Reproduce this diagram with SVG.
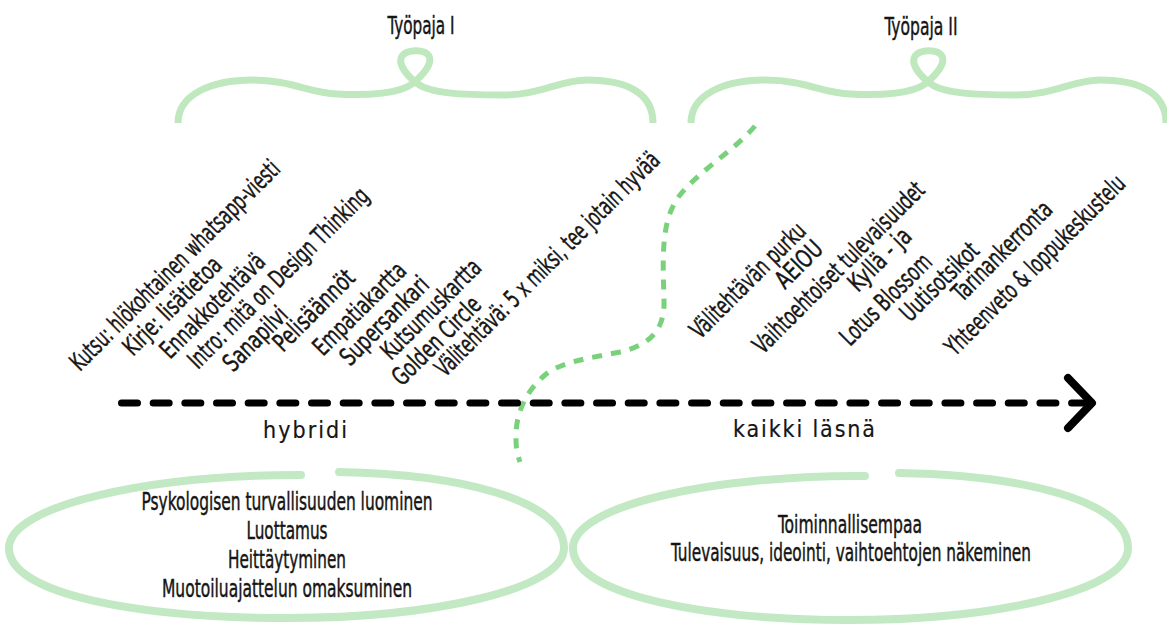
<svg xmlns="http://www.w3.org/2000/svg" width="1167" height="624" viewBox="0 0 1167 624">
<style>
  text { font-family: "Liberation Sans Narrow", "DejaVu Sans Condensed", "Liberation Sans", sans-serif; fill: #151515; stroke: #151515; stroke-width: 0.45; font-size: 25px; }
  .mid { text-anchor: middle; }
  .goal { font-size: 24px; }
  .spaced { font-size: 23px; stroke-width: 0.2; }
  .brace { fill: none; stroke: #bfe8bf; stroke-width: 7; stroke-linecap: butt; stroke-linejoin: round; }
  .oval { fill: none; stroke: #c2e9c3; stroke-width: 8; stroke-linecap: round; }
  .divider { fill: none; stroke: #79d27b; stroke-width: 5; stroke-dasharray: 10 9; }
  .timeline { fill: none; stroke: #000; stroke-width: 7; stroke-linecap: round; stroke-dasharray: 16 15.67; }
  .head { fill: none; stroke: #000; stroke-width: 8; stroke-linecap: round; stroke-linejoin: round; }
</style>
<defs>
  <path id="bracePath" d="M178,123 C178,95 210,80 253,80 C290,80 310,93 337,94 C370,96 400,93 412,84 C422,76 433,64 429,56 C425,49 407,49 402,56 C397,64 407,76 418,84 C430,93 460,95 503,95 C540,95 560,80 587,80 C630,80 653,95 653,123"/>
</defs>

<g id="workshop1">
  <use href="#bracePath" class="brace"/>
  <text class="mid" x="421" y="34" textLength="67" lengthAdjust="spacingAndGlyphs">Työpaja I</text>
</g>
<g id="workshop2">
  <use href="#bracePath" class="brace" transform="translate(513,0)"/>
  <text class="mid" x="921" y="35" textLength="73" lengthAdjust="spacingAndGlyphs">Työpaja II</text>
</g>

<g id="divider">
  <path class="divider" d="M755,126 C735,150 700,170 680,195 C660,220 663,260 664,300 C665,330 650,345 620,352 C590,358 560,362 545,375 C525,392 515,415 516,440 C516,450 518,456 520,462"/>
</g>

<g id="connectors">
  <path class="timeline" d="M121.5,403 H1088"/>
  <polyline class="head" points="1068,378 1092,403 1068,428"/>
</g>

<g id="labels-workshop1">
  <text transform="translate(80,372) rotate(-45)" textLength="285" lengthAdjust="spacingAndGlyphs">Kutsu: hlökohtainen whatsapp-viesti</text>
  <text transform="translate(133,357) rotate(-45)" textLength="128" lengthAdjust="spacingAndGlyphs">Kirje: lisätietoa</text>
  <text transform="translate(170,360) rotate(-45)" textLength="137" lengthAdjust="spacingAndGlyphs">Ennakkotehtävä</text>
  <text transform="translate(198,370) rotate(-45)" textLength="244" lengthAdjust="spacingAndGlyphs">Intro: mitä on Design Thinking</text>
  <text transform="translate(233,373) rotate(-45)" textLength="80" lengthAdjust="spacingAndGlyphs">Sanapilvi</text>
  <text transform="translate(283,353) rotate(-45)" textLength="104" lengthAdjust="spacingAndGlyphs">Pelisäännöt</text>
  <text transform="translate(323,357) rotate(-45)" textLength="120" lengthAdjust="spacingAndGlyphs">Empatiakartta</text>
  <text transform="translate(350,367) rotate(-45)" textLength="114" lengthAdjust="spacingAndGlyphs">Supersankari</text>
  <text transform="translate(391,361) rotate(-45)" textLength="130" lengthAdjust="spacingAndGlyphs">Kutsumuskartta</text>
  <text transform="translate(402,387) rotate(-45)" textLength="114" lengthAdjust="spacingAndGlyphs">Golden Circle</text>
  <text transform="translate(445,378) rotate(-45)" textLength="306" lengthAdjust="spacingAndGlyphs">Välitehtävä: 5 x miksi, tee jotain hyvää</text>
</g>

<g id="labels-workshop2">
  <text transform="translate(700,340) rotate(-45)" textLength="152" lengthAdjust="spacingAndGlyphs">Välitehtävän purku</text>
  <text transform="translate(785,290) rotate(-45)" textLength="56" lengthAdjust="spacingAndGlyphs">AEIOU</text>
  <text transform="translate(763,355) rotate(-45)" textLength="231" lengthAdjust="spacingAndGlyphs">Vaihtoehtoiset tulevaisuudet</text>
  <text transform="translate(858,293) rotate(-45)" textLength="78" lengthAdjust="spacingAndGlyphs">Kyllä - ja</text>
  <text transform="translate(850,347) rotate(-45)" textLength="118" lengthAdjust="spacingAndGlyphs">Lotus Blossom</text>
  <text transform="translate(910,323) rotate(-45)" textLength="100" lengthAdjust="spacingAndGlyphs">Uutisotsikot</text>
  <text transform="translate(962,303) rotate(-45)" textLength="130" lengthAdjust="spacingAndGlyphs">Tarinankerronta</text>
  <text transform="translate(955,357) rotate(-45)" textLength="243" lengthAdjust="spacingAndGlyphs">Yhteenveto &amp; loppukeskustelu</text>
</g>

<g id="phase-hybridi">
  <text class="spaced" x="263" y="438" textLength="84" lengthAdjust="spacing">hybridi</text>
</g>
<g id="phase-kaikki">
  <text class="spaced" x="733" y="437" textLength="142" lengthAdjust="spacing">kaikki läsnä</text>
</g>

<g id="goals1">
  <path class="oval" d="M339,472 C460,474 564,500 564,548 C564,590 430,618 287,618 C140,618 9,595 9,548 C9,505 150,475 301,475"/>
  <text class="mid goal" x="287" y="510" textLength="291" lengthAdjust="spacingAndGlyphs">Psykologisen turvallisuuden luominen</text>
  <text class="mid goal" x="287" y="539" textLength="81" lengthAdjust="spacingAndGlyphs">Luottamus</text>
  <text class="mid goal" x="287" y="568" textLength="118" lengthAdjust="spacingAndGlyphs">Heittäytyminen</text>
  <text class="mid goal" x="287" y="597" textLength="250" lengthAdjust="spacingAndGlyphs">Muotoiluajattelun omaksuminen</text>
</g>
<g id="goals2">
  <path class="oval" d="M899,473 C1020,475 1128,500 1128,548 C1128,592 990,620 850,620 C705,620 573,595 573,548 C573,505 715,475 865,476"/>
  <text class="mid goal" x="850" y="533" textLength="144" lengthAdjust="spacingAndGlyphs">Toiminnallisempaa</text>
  <text class="mid goal" x="851" y="561" textLength="360" lengthAdjust="spacingAndGlyphs">Tulevaisuus, ideointi, vaihtoehtojen näkeminen</text>
</g>
</svg>
